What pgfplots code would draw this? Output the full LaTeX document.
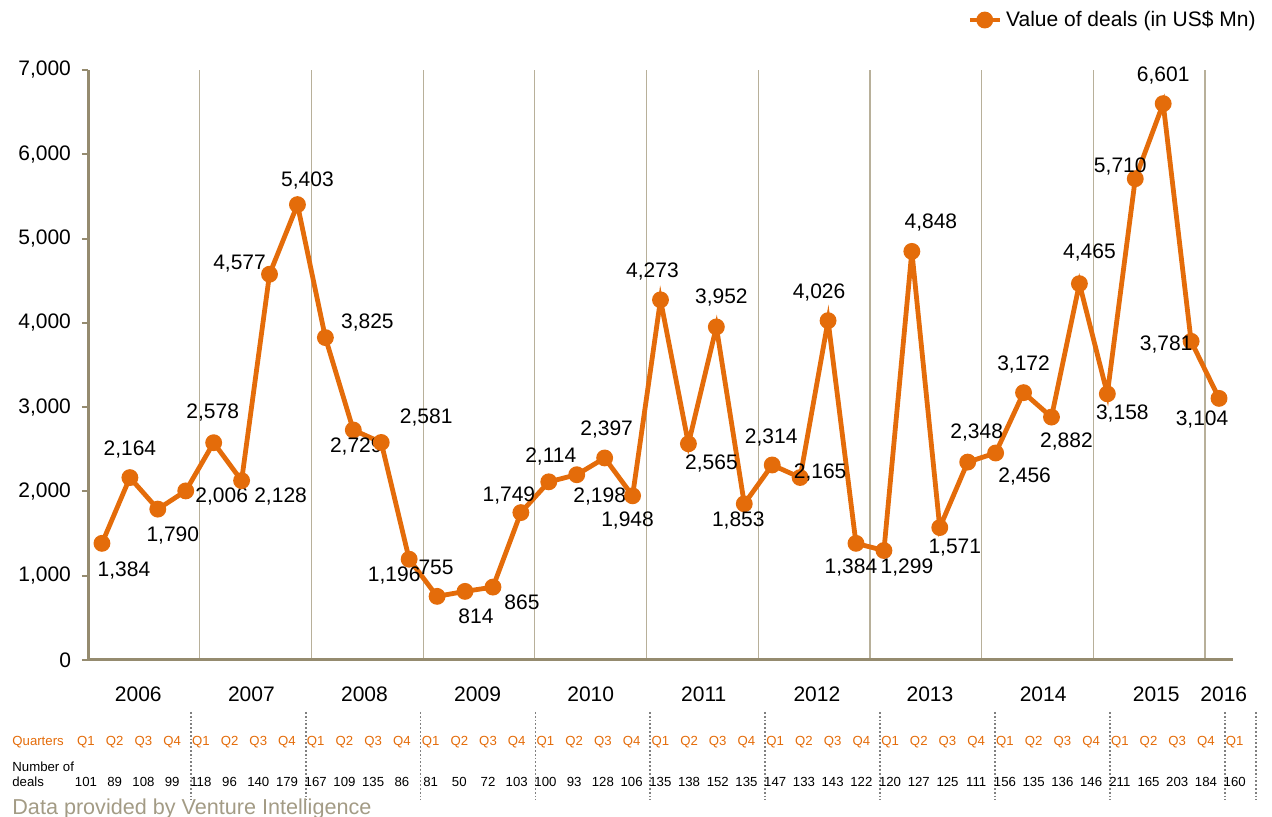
\documentclass[border=0pt]{standalone}
\usepackage{fontspec}
\setmainfont{Liberation Sans}
\usepackage{pgfplots}
\usepackage{pgfplotstable}
\pgfplotsset{compat=1.18}

\definecolor{dealorange}{HTML}{E46C0A}
\definecolor{axiscol}{HTML}{958B6F}
\definecolor{gridcol}{HTML}{B8B09A}
\definecolor{notecol}{HTML}{A39B85}

% q = quarter index (2006 Q1 = 0), v = value of deals, n = number of deals
% dx, dy = offset of the value label in pt
\pgfplotstableread{
q  v     n    ql  dx     dy
0  1384  101  Q1  11     -13.5
1  2164  89   Q2  0      14
2  1790  108  Q3  7.5    -13
3  2006  99   Q4  18     -3
4  2578  118  Q1  -0.5   15
5  2128  96   Q2  19.5   -8
6  4577  140  Q3  -15    5.5
7  5403  179  Q4  5      12
8  3825  167  Q1  21     7.5
9  2729  109  Q2  1.5    -8.5
10 2581  135  Q3  22.5   12.5
11 1196  86   Q4  -7.5   -8
12 755   81   Q1  -0.5   14.5
13 814   50   Q2  5.5    -12.5
14 865   72   Q3  14.5   -7.5
15 1749  103  Q4  -6     8.5
16 2114  100  Q1  1      12.5
17 2198  93   Q2  11.5   -11
18 2397  128  Q3  1      14
19 1948  106  Q4  -2.5   -12.5
20 4273  135  Q1  -4     14
21 2565  138  Q2  11.5   -10
22 3952  152  Q3  2.5    14.5
23 1853  135  Q4  -3     -8.5
24 2314  147  Q1  -0.5   13.5
25 2165  133  Q2  10     2.5
26 4026  143  Q3  -4.5   14
27 1384  122  Q4  -2.5   -12
28 1299  120  Q1  11.5   -8.5
29 4848  127  Q2  9.5    14.5
30 1571  125  Q3  7.5    -10
31 2348  111  Q4  4.5    15
32 2456  156  Q1  14.5   -12
33 3172  135  Q2  0      14
34 2882  136  Q3  7.5    -12
35 4465  146  Q4  5      15.5
36 3158  211  Q1  7.5    -10
37 5710  165  Q2  -7.5   6
38 6601  203  Q3  0      14
39 3781  184  Q4  -12.5  -1.5
40 3104  160  Q1  -8.5   -10.5
}\dealvalues

\begin{document}
\begin{tikzpicture}[font=\fontsize{10.5}{12.5}\selectfont]
\path[use as bounding box] (-44pt,-78.5pt) rectangle (592pt,330pt);
\begin{axis}[
  at={(0,0)}, anchor=south west,
  width=572.5pt, height=295pt, scale only axis,
  xmin=-0.5, xmax=40.5, ymin=0, ymax=7000,
  clip=false,
  axis x line=bottom, axis y line=left,
  axis line style={-, draw=axiscol, line width=1.5pt},
  ytick={0,1000,...,7000},
  xtick={3.5,7.5,...,39.5}, xticklabels={},
  xmajorgrids,
  major x grid style={draw=gridcol, line width=0.6pt},
  tick align=outside, major tick length=3pt,
  xtick style={draw=none},
  ytick style={draw=axiscol, line width=1pt},
  scaled y ticks=false,
  /pgf/number format/.cd, 1000 sep={,}, assume math mode=true,
  /pgfplots/.cd,
  yticklabel style={xshift=-2pt},
  extra x ticks={1.3,5.35,9.4,13.45,17.5,21.55,25.6,29.65,33.7,37.75,40.17},
  extra x tick labels={2006,2007,2008,2009,2010,2011,2012,2013,2014,2015,2016},
  extra x tick style={grid=none, xticklabel style={anchor=base, yshift=-18pt}},
  legend style={at={(1.0288,1.0847)}, anchor=east, draw=none, fill=none},
  legend cell align=left,
  legend image code/.code={\draw[mark repeat=2, mark phase=2, #1]
    plot coordinates {(0pt,0pt) (7.5pt,0pt) (15pt,0pt)};},
]
\addplot[dealorange, line width=2.4pt, mark=*, mark size=3pt,
  point meta=explicit,
  nodes near coords={\pgfmathprintnumber[fixed,precision=0,1000 sep={,}]{\pgfplotspointmeta}},
  visualization depends on={\thisrow{dx} \as \ldx},
  visualization depends on={\thisrow{dy} \as \ldy},
  every node near coord/.append style={text=black, anchor=center, xshift=\ldx pt, yshift=\ldy pt}]
  table[x=q, y=v, meta=v] {\dealvalues};
\addlegendentry{Value of deals (in US\$ Mn)}

% quarters and number of deals under the axis
\addplot[draw=none, mark=none, forget plot, point meta=explicit symbolic,
  nodes near coords,
  every node near coord/.append style={anchor=base, yshift=-42.9pt, text=dealorange,
    font=\fontsize{6.6}{7.5}\selectfont}]
  table[x expr=1.0283*\thisrow{q}-0.572, y expr=0, meta=ql] {\dealvalues};
\addplot[draw=none, mark=none, forget plot, point meta=explicit symbolic,
  nodes near coords,
  every node near coord/.append style={anchor=base, yshift=-63.3pt, text=black,
    font=\fontsize{6.6}{7.5}\selectfont}]
  table[x expr=1.0283*\thisrow{q}-0.572, y expr=0, meta=n] {\dealvalues};

\pgfplotsinvokeforeach{1,...,10}{
  \draw[densely dotted, gray, line width=0.9pt] (axis cs:{-0.93+4.113*#1},0) ++(0pt,-26pt) -- ++(0pt,-44pt);
}
\draw[densely dotted, gray, line width=0.9pt] (axis cs:41.32,0) ++(0pt,-26pt) -- ++(0pt,-44pt);

\node[anchor=base west, inner sep=0pt, text=dealorange, font=\fontsize{6.6}{7.5}\selectfont]
  at (rel axis cs:0,0) [xshift=-38pt, yshift=-42.9pt] {Quarters};
\node[anchor=base west, inner sep=0pt, align=left, font=\fontsize{6.6}{7.5}\selectfont]
  at (rel axis cs:0,0) [xshift=-38pt, yshift=-63.3pt] {Number of\\deals};
\node[anchor=base west, inner sep=0pt, text=notecol, font=\fontsize{10.8}{12.5}\selectfont]
  at (rel axis cs:0,0) [xshift=-38pt, yshift=-77pt] {Data provided by Venture Intelligence};
\end{axis}
\end{tikzpicture}
\end{document}
